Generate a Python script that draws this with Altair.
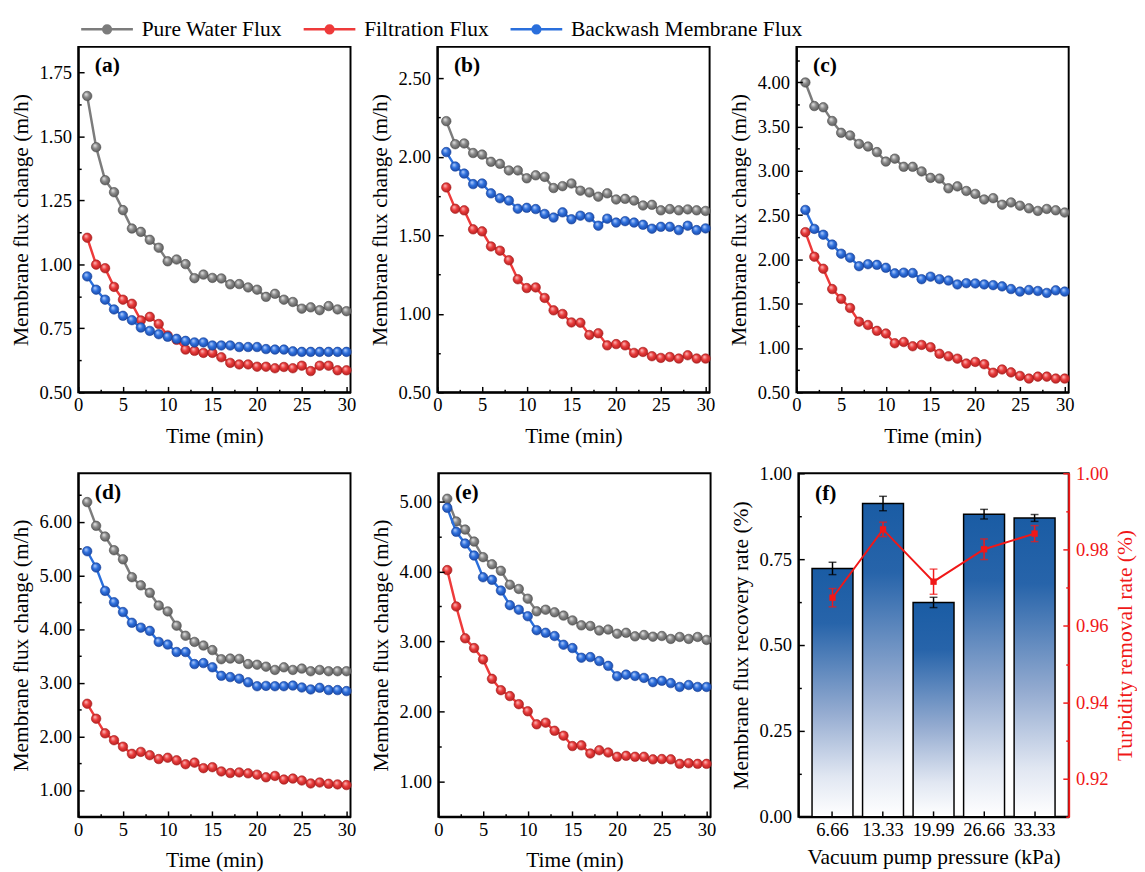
import altair as alt
import pandas as pd

FONT = "Liberation Serif, Times New Roman, Times, serif"
TIME = list(range(1, 31))
SERIES = ["Pure Water Flux", "Filtration Flux", "Backwash Membrane Flux"]
LINE_COLORS = ["#7c7c7c", "#ee3a3a", "#2a6fdc"]

# ---- panel (a) ----
a_pure = [1.658, 1.458, 1.329, 1.282, 1.212, 1.140, 1.127, 1.096, 1.065, 1.012, 1.019, 1.001, 0.946, 0.960, 0.947,
          0.945, 0.922, 0.923, 0.910, 0.901, 0.873, 0.885, 0.862, 0.853, 0.827, 0.832, 0.821, 0.837, 0.824, 0.817]
a_filt = [1.104, 0.999, 0.985, 0.912, 0.862, 0.846, 0.781, 0.795, 0.767, 0.722, 0.705, 0.667, 0.662, 0.654, 0.654,
          0.637, 0.615, 0.609, 0.609, 0.600, 0.600, 0.594, 0.599, 0.594, 0.604, 0.583, 0.604, 0.604, 0.586, 0.586]
a_back = [0.953, 0.901, 0.862, 0.824, 0.799, 0.782, 0.753, 0.740, 0.727, 0.717, 0.709, 0.701, 0.695, 0.695, 0.683,
          0.683, 0.683, 0.677, 0.677, 0.677, 0.669, 0.667, 0.667, 0.660, 0.658, 0.658, 0.658, 0.658, 0.658, 0.658]
# ---- panel (b) ----
b_pure = [2.227, 2.080, 2.085, 2.024, 2.014, 1.968, 1.955, 1.913, 1.913, 1.863, 1.882, 1.872, 1.801, 1.813, 1.830,
          1.784, 1.773, 1.746, 1.767, 1.728, 1.732, 1.721, 1.690, 1.694, 1.659, 1.667, 1.659, 1.665, 1.659, 1.655]
b_filt = [1.805, 1.669, 1.659, 1.538, 1.525, 1.429, 1.402, 1.341, 1.220, 1.164, 1.168, 1.101, 1.022, 0.999, 0.945,
          0.943, 0.865, 0.876, 0.799, 0.807, 0.799, 0.751, 0.757, 0.730, 0.719, 0.725, 0.715, 0.736, 0.715, 0.715]
b_back = [2.030, 1.938, 1.893, 1.826, 1.830, 1.767, 1.736, 1.721, 1.669, 1.675, 1.667, 1.636, 1.613, 1.646, 1.602,
          1.625, 1.615, 1.561, 1.606, 1.581, 1.590, 1.581, 1.567, 1.542, 1.554, 1.554, 1.533, 1.561, 1.533, 1.544]
# ---- panel (c) ----
c_pure = [3.998, 3.732, 3.718, 3.563, 3.430, 3.400, 3.304, 3.275, 3.212, 3.105, 3.138, 3.046, 3.046, 2.994, 2.921,
          2.913, 2.803, 2.825, 2.773, 2.740, 2.677, 2.692, 2.618, 2.644, 2.607, 2.577, 2.548, 2.570, 2.555, 2.530]
c_filt = [2.308, 2.031, 1.895, 1.666, 1.555, 1.452, 1.297, 1.260, 1.194, 1.164, 1.054, 1.068, 1.020, 1.035, 1.009,
          0.935, 0.906, 0.880, 0.825, 0.843, 0.817, 0.721, 0.758, 0.725, 0.685, 0.655, 0.677, 0.677, 0.655, 0.655]
c_back = [2.559, 2.345, 2.279, 2.168, 2.065, 2.020, 1.924, 1.946, 1.939, 1.906, 1.843, 1.851, 1.847, 1.777, 1.806,
          1.777, 1.762, 1.718, 1.732, 1.729, 1.718, 1.710, 1.696, 1.666, 1.637, 1.655, 1.644, 1.622, 1.651, 1.637]
# ---- panel (d) ----
d_pure = [6.364, 5.921, 5.721, 5.467, 5.297, 4.964, 4.812, 4.673, 4.436, 4.327, 4.061, 3.873, 3.758, 3.691, 3.606,
          3.436, 3.448, 3.442, 3.345, 3.333, 3.297, 3.236, 3.285, 3.236, 3.261, 3.212, 3.236, 3.212, 3.212, 3.212]
d_filt = [2.606, 2.327, 2.055, 1.927, 1.806, 1.673, 1.709, 1.648, 1.576, 1.600, 1.552, 1.479, 1.509, 1.406, 1.424,
          1.345, 1.315, 1.327, 1.309, 1.285, 1.236, 1.261, 1.194, 1.212, 1.176, 1.121, 1.139, 1.115, 1.103, 1.091]
d_back = [5.448, 5.145, 4.709, 4.497, 4.315, 4.115, 4.024, 3.964, 3.758, 3.709, 3.570, 3.570, 3.345, 3.364, 3.285,
          3.127, 3.103, 3.073, 3.006, 2.933, 2.939, 2.933, 2.933, 2.945, 2.909, 2.873, 2.903, 2.861, 2.861, 2.842]
# ---- panel (e) ----
e_pure = [5.037, 4.713, 4.597, 4.426, 4.204, 4.102, 4.009, 3.810, 3.750, 3.611, 3.431, 3.454, 3.417, 3.370, 3.301,
          3.231, 3.222, 3.157, 3.171, 3.111, 3.125, 3.074, 3.093, 3.069, 3.079, 3.037, 3.065, 3.037, 3.065, 3.023]
e_filt = [4.019, 3.500, 3.046, 2.907, 2.745, 2.468, 2.306, 2.222, 2.106, 2.005, 1.819, 1.843, 1.727, 1.657, 1.509,
          1.519, 1.403, 1.449, 1.417, 1.356, 1.370, 1.356, 1.356, 1.319, 1.324, 1.319, 1.255, 1.264, 1.255, 1.255]
e_back = [4.907, 4.565, 4.398, 4.227, 3.917, 3.880, 3.727, 3.519, 3.454, 3.361, 3.162, 3.125, 3.079, 2.954, 2.907,
          2.769, 2.778, 2.722, 2.653, 2.505, 2.528, 2.509, 2.481, 2.421, 2.440, 2.407, 2.352, 2.380, 2.352, 2.352]
# ---- panel (f) ----
PRESSURE = ["6.66", "13.33", "19.99", "26.66", "33.33"]
RECOVERY = [0.723, 0.912, 0.624, 0.881, 0.870]
RECOVERY_ERR = [0.018, 0.021, 0.015, 0.014, 0.010]
TURBIDITY = [0.9674, 0.9853, 0.9716, 0.9801, 0.9842]
TURBIDITY_ERR = [0.0024, 0.0019, 0.0033, 0.0027, 0.0021]

X_MAJOR = [0, 5, 10, 15, 20, 25, 30]
X_MINOR = [2.5, 7.5, 12.5, 17.5, 22.5, 27.5]

BALL = {
    "Pure Water Flux": ("#ececec", "#888888", "#4d4d4d"),
    "Filtration Flux": ("#ffc4c4", "#e83a3a", "#a41a1a"),
    "Backwash Membrane Flux": ("#bcd4ff", "#2d6fdc", "#173f98"),
}
RED = "#f01818"
ZERO_PAD = {"left": 0, "top": 0, "right": 0, "bottom": 0}
TEXT_STYLE = dict(labelFont=FONT, labelFontSize=19, labelFontWeight="normal",
                  titleFont=FONT, titleFontSize=22, titleFontWeight="normal")


def ball(s):
    hi, base, dark = BALL[s]
    return alt.RadialGradient(
        gradient="radial", x1=0.36, y1=0.3, r1=0.0, x2=0.5, y2=0.5, r2=0.62,
        stops=[alt.GradientStop(offset=0, color=hi),
               alt.GradientStop(offset=0.45, color=base),
               alt.GradientStop(offset=1, color=dark)])


def major_test(step):
    return f"abs(datum.value/{step} - round(datum.value/{step})) < 1e-6"


def y_axis(title, major_step, values, fmt=".2f", orient="left", color="black"):
    t = major_test(major_step)
    extra = {}
    if orient == "right":
        extra = dict(titleAngle=270, titleBaseline="top")
    return alt.Axis(
        title=title, orient=orient, values=values,
        labelExpr=f"({t}) ? format(datum.value, '{fmt}') : ''",
        tickSize={"expr": f"({t}) ? -6 : -3"}, labelPadding=13, titlePadding=7,
        domainColor=color, tickColor=color, labelColor=color, titleColor=color,
        domainWidth=2, tickWidth=1.5, zindex=1, labelOverlap=False, labelFlush=False,
        **TEXT_STYLE, **extra,
    )


def x_axis():
    t = major_test(5)
    return alt.Axis(
        title="Time (min)", values=sorted(X_MAJOR + X_MINOR),
        labelExpr=f"({t}) ? format(datum.value, 'd') : ''",
        tickSize={"expr": f"({t}) ? -6 : -3"}, labelPadding=10, titlePadding=8, labelAngle=0,
        domainColor="black", tickColor="black", labelColor="black", titleColor="black",
        domainWidth=2, tickWidth=1.5, zindex=1, labelOverlap=False, labelFlush=False,
        **TEXT_STYLE,
    )


LEG_PATH = ("M-1,0L2.22,0M3.36,0L6.57,0"
            "M2.22,0A0.57,0.57,0,1,0,3.36,0A0.57,0.57,0,1,0,2.22,0Z")
legend = alt.Legend(
    title=None, orient="none", legendX=-1, legendY=-29, direction="horizontal", columns=3,
    symbolType=LEG_PATH, symbolSize=196, symbolStrokeWidth=2.5, labelOffset=44, labelLimit=500,
    columnPadding=17, padding=0, labelFont=FONT, labelFontSize=22, labelFontWeight="normal",
    labelColor="black", symbolFillColor={"expr": "scale('color', datum.value)"},
)
color_scale = alt.Scale(domain=SERIES, range=LINE_COLORS)


def seq(start, stop, step):
    out, v = [], start
    while v <= stop + 1e-9:
        out.append(round(v, 6))
        v += step
    return out


def flux_panel(tag, pure, filt, back, ydom, ystep, height):
    rows = []
    for s, vals in zip(SERIES, (pure, filt, back)):
        for t, v in zip(TIME, vals):
            rows.append({"Time": t, "Series": s, "Flux": v})
    df = pd.DataFrame(rows)
    yvals = seq(ydom[0], ydom[1], ystep / 2)
    x = alt.X("Time:Q", scale=alt.Scale(domain=[0, 30.45], nice=False, zero=False), axis=x_axis())
    y = alt.Y("Flux:Q", scale=alt.Scale(domain=ydom, nice=False, zero=False),
              axis=y_axis("Membrane flux change (m/h)", ystep, yvals))
    layers = []
    for s in SERIES:
        b = alt.Chart(df).transform_filter(alt.datum.Series == s)
        layers.append(b.mark_line(strokeWidth=2.5).encode(
            x=x, y=y, color=alt.Color("Series:N", scale=color_scale, legend=legend)))
        layers.append(b.mark_circle(size=95, opacity=1, color=ball(s), stroke=BALL[s][2], strokeWidth=0.6)
                      .encode(x=x, y=y))
    tag_layer = alt.Chart(pd.DataFrame({"tag": [tag]})).mark_text(
        align="left", baseline="middle", font=FONT, fontSize=22, fontWeight="bold", color="black"
    ).encode(text="tag:N", x=alt.value(17), y=alt.value(19))
    return alt.layer(*layers, tag_layer).properties(width=279, height=height)


pa = flux_panel("(a)", a_pure, a_filt, a_back, [0.5, 1.85], 0.25, 354)
pb = flux_panel("(b)", b_pure, b_filt, b_back, [0.5, 2.7], 0.5, 354)
pc = flux_panel("(c)", c_pure, c_filt, c_back, [0.5, 4.4], 0.5, 354)
pd_ = flux_panel("(d)", d_pure, d_filt, d_back, [0.5, 6.9], 1.0, 352)
pe = flux_panel("(e)", e_pure, e_filt, e_back, [0.5, 5.4], 1.0, 352)

# ---- panel (f) ----
dff = pd.DataFrame({
    "Pressure": PRESSURE,
    "Recovery": RECOVERY,
    "RecLo": [v - e for v, e in zip(RECOVERY, RECOVERY_ERR)],
    "RecHi": [v + e for v, e in zip(RECOVERY, RECOVERY_ERR)],
    "Turb": TURBIDITY,
    "TurbLo": [v - e for v, e in zip(TURBIDITY, TURBIDITY_ERR)],
    "TurbHi": [v + e for v, e in zip(TURBIDITY, TURBIDITY_ERR)],
})
xf = alt.X("Pressure:N", sort=PRESSURE, scale=alt.Scale(paddingInner=0.19, paddingOuter=0.27),
           axis=alt.Axis(title="Vacuum pump pressure (kPa)", labelAngle=0, tickSize={"expr": "-6"},
                         labelPadding=10, titlePadding=8, domainWidth=2, tickWidth=1.5, zindex=1,
                         domainColor="black", tickColor="black", labelColor="black", titleColor="black",
                         **TEXT_STYLE))
left_axis = y_axis("Membrane flux recovery rate (%)", 0.25, seq(0, 1, 0.125))
right_axis = y_axis("Turbidity removal rate (%)", 0.02, seq(0.91, 1.0, 0.01), orient="right", color=RED)


def yl(field):
    return alt.Y(f"{field}:Q", scale=alt.Scale(domain=[0, 1], nice=False), axis=left_axis)


def yr(field):
    return alt.Y(f"{field}:Q", scale=alt.Scale(domain=[0.91, 1.0], nice=False, zero=False), axis=right_axis)


BAR_GRAD = alt.LinearGradient(
    gradient="linear", x1=0, x2=0, y1=0, y2=1,
    stops=[alt.GradientStop(offset=0, color="#1a5ca4"),
           alt.GradientStop(offset=0.22, color="#2764aa"),
           alt.GradientStop(offset=0.58, color="#94abd0"),
           alt.GradientStop(offset=0.84, color="#e1e7f2"),
           alt.GradientStop(offset=1, color="#ffffff")])

basef = alt.Chart(dff)
bars = basef.mark_bar(color=BAR_GRAD, stroke="black", strokeWidth=1.5).encode(x=xf, y=yl("Recovery"))
rec_err = basef.mark_rule(color="black", strokeWidth=1.5).encode(x=xf, y=yl("RecLo"), y2="RecHi:Q")
rec_lo = basef.mark_tick(color="black", thickness=1.5, size=8).encode(x=xf, y=yl("RecLo"))
rec_hi = basef.mark_tick(color="black", thickness=1.5, size=8).encode(x=xf, y=yl("RecHi"))
left_group = alt.layer(bars, rec_err, rec_lo, rec_hi)

t_line = basef.mark_line(color=RED, strokeWidth=2).encode(x=xf, y=yr("Turb"))
t_err = basef.mark_rule(color=RED, strokeWidth=1.5).encode(x=xf, y=yr("TurbLo"), y2="TurbHi:Q")
t_lo = basef.mark_tick(color=RED, thickness=1.5, size=8).encode(x=xf, y=yr("TurbLo"))
t_hi = basef.mark_tick(color=RED, thickness=1.5, size=8).encode(x=xf, y=yr("TurbHi"))
t_pts = basef.mark_point(shape="square", filled=True, size=42, color=RED, opacity=1).encode(x=xf, y=yr("Turb"))
right_group = alt.layer(t_line, t_err, t_lo, t_hi, t_pts)

f_tag = alt.Chart(pd.DataFrame({"tag": ["(f)"]})).mark_text(
    align="left", baseline="middle", font=FONT, fontSize=22, fontWeight="bold", color="black"
).encode(text="tag:N", x=alt.value(17), y=alt.value(20))

pf = alt.layer(left_group, right_group, f_tag).resolve_scale(y="independent").properties(width=277, height=352)

top = alt.hconcat(pa, pb, pc, spacing=10)
bottom = alt.hconcat(pd_, pe, pf, spacing=11)
chart = alt.vconcat(top, bottom, spacing=17).properties(
    padding=ZERO_PAD
).configure(font=FONT, padding=ZERO_PAD).configure_view(
    stroke="black", strokeWidth=2
).configure_axis(
    labelFont=FONT, titleFont=FONT, labelFontSize=19, titleFontSize=22, titleFontWeight="normal",
    labelColor="black", titleColor="black", domainColor="black", tickColor="black", grid=False
).configure_legend(labelFont=FONT)

chart.save("out.html", embed_options={"renderer": "svg", "actions": False})
